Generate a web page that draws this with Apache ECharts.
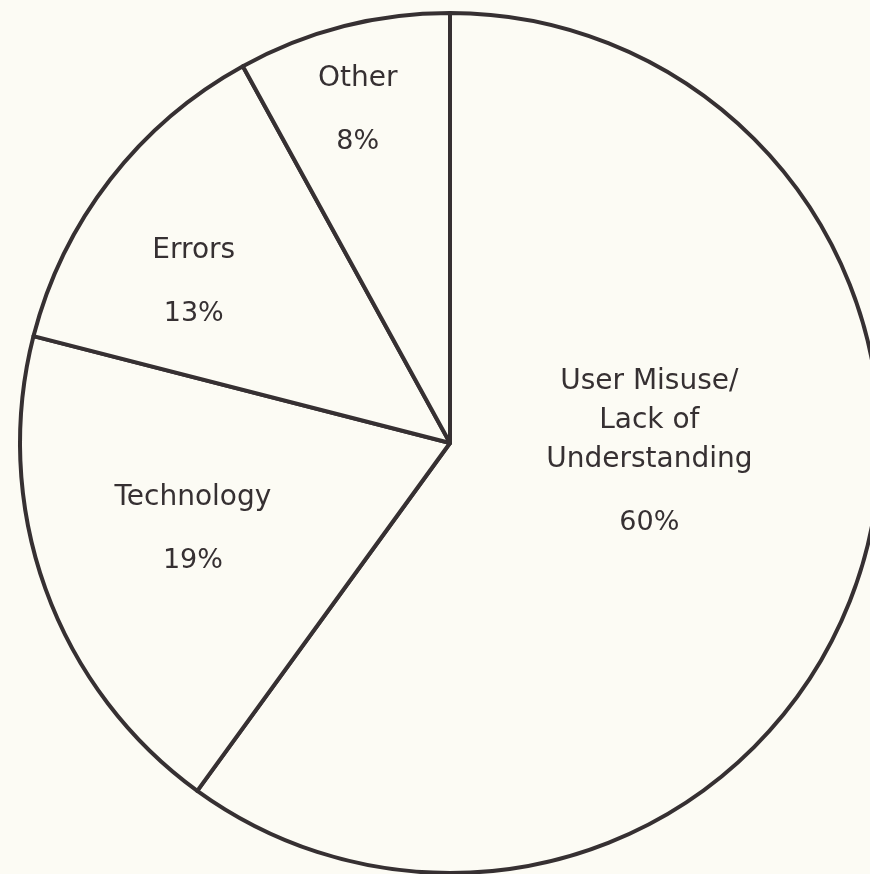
<!DOCTYPE html>
<html>
<head>
<meta charset="utf-8">
<script src="https://cdn.jsdelivr.net/npm/echarts@6/dist/echarts.min.js"></script>
<style>
  html, body { margin: 0; padding: 0; background: #fcfbf4; }
  #chart { width: 870px; height: 874px; }
</style>
</head>
<body>
<div id="chart"></div>
<script>
// Slices, clockwise from twelve o'clock
const categories = ['User Misuse/\nLack of\nUnderstanding', 'Technology', 'Errors', 'Other'];
const shares = [60, 19, 13, 8];

// Nudges for each label away from the default inside anchor
const labelOffsets = [[-8, -46], [-52, 25], [-84, -15], [-38, -109]];

const ink = '#363032';
const paper = '#fcfbf4';

const chart = echarts.init(document.getElementById('chart'), null, { renderer: 'canvas' });

chart.setOption({
  backgroundColor: paper,
  animation: false,
  series: [{
    type: 'pie',
    center: [450, 443],
    radius: [0, 430],
    startAngle: 90,
    clockwise: true,
    avoidLabelOverlap: false,
    itemStyle: {
      color: paper,
      borderColor: ink,
      borderWidth: 4
    },
    emphasis: { disabled: true },
    label: {
      show: true,
      position: 'inside',
      color: ink,
      fontFamily: 'DejaVu Sans',
      formatter: p => '{n|' + p.name.split('\n').join('}\n{n|') + '}\n{p|' + p.value + '%}',
      rich: {
        n: { fontSize: 28, lineHeight: 39, color: ink, fontFamily: 'DejaVu Sans', align: 'center' },
        p: { fontSize: 27, lineHeight: 88, color: ink, fontFamily: 'DejaVu Sans', align: 'center' }
      }
    },
    labelLine: { show: false },
    data: categories.map((name, i) => ({
      name: name,
      value: shares[i],
      label: { offset: labelOffsets[i] }
    }))
  }]
});
</script>
</body>
</html>
